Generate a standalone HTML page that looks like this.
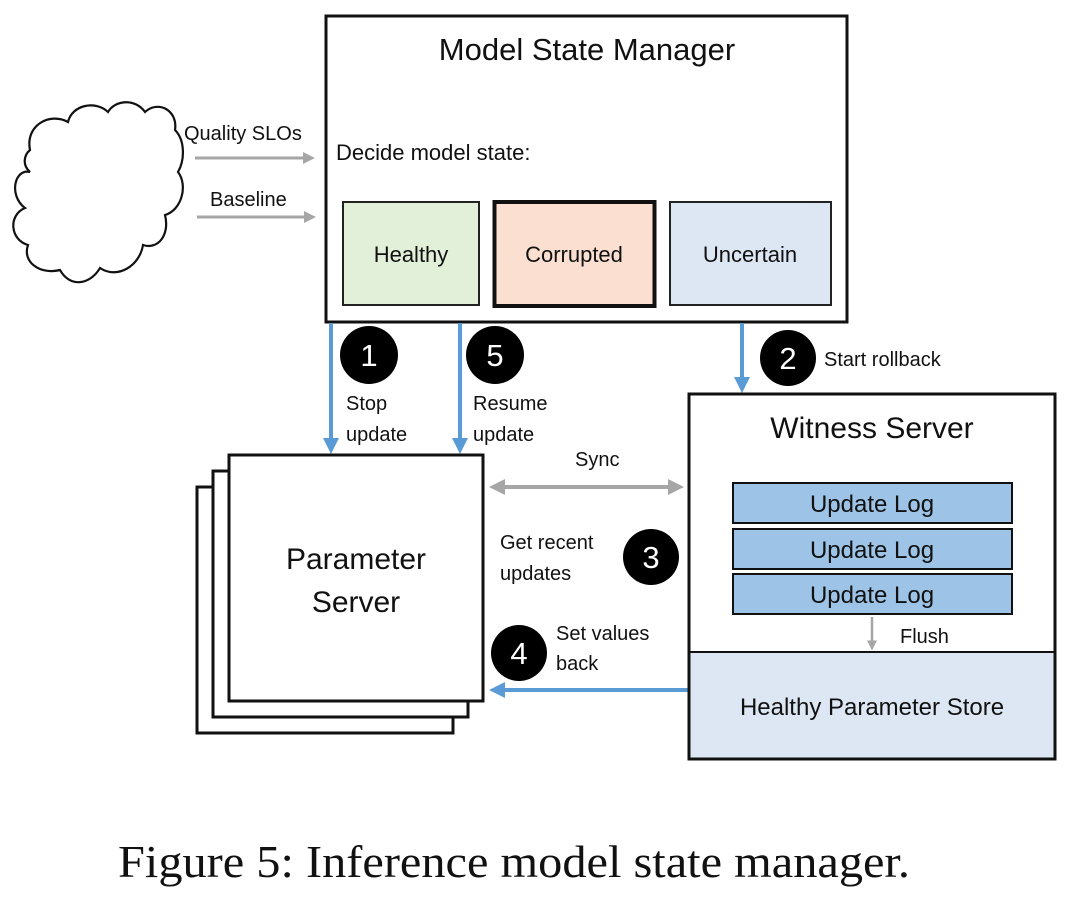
<!DOCTYPE html>
<html><head><meta charset="utf-8"><style>
html,body{margin:0;padding:0;background:#fff;}
svg{display:block;}
text{font-family:"Liberation Sans",sans-serif;fill:#111;}
</style></head><body>
<svg width="1080" height="900" viewBox="0 0 1080 900" xmlns="http://www.w3.org/2000/svg">
<defs>
<marker id="ga" markerWidth="4" markerHeight="4" refX="3" refY="2" orient="auto" markerUnits="strokeWidth"><path d="M0,0 L4,2 L0,4 z" fill="#a6a6a6"/></marker>
<marker id="gs" markerWidth="4" markerHeight="4" refX="1" refY="2" orient="auto" markerUnits="strokeWidth"><path d="M4,0 L0,2 L4,4 z" fill="#a6a6a6"/></marker>
<marker id="ba" markerWidth="4" markerHeight="4" refX="3" refY="2" orient="auto" markerUnits="strokeWidth"><path d="M0,0 L4,2 L0,4 z" fill="#5b9bd5"/></marker>
</defs>
<!-- cloud -->
<path d="M30,150 C25,125 50,112 68,122 C72,105 95,100 108,112 C115,100 135,98 145,112 C158,100 178,110 175,130 C185,140 185,160 178,172 C188,185 182,210 165,215 C170,235 158,250 143,245 C140,265 118,280 100,268 C90,285 70,288 60,270 C40,275 22,262 28,245 C10,240 8,215 25,208 C8,195 15,168 30,172 C22,165 24,155 30,150 z" fill="#fff" stroke="#111" stroke-width="2.2"/>
<!-- MSM -->
<rect x="326" y="16" width="521" height="306" fill="#fff" stroke="#111" stroke-width="3"/>
<text x="587" y="60" font-size="31" text-anchor="middle">Model State Manager</text>
<text x="336" y="160" font-size="22">Decide model state:</text>
<rect x="343" y="202" width="136" height="103" fill="#e2efd9" stroke="#222" stroke-width="2"/>
<text x="411" y="262" font-size="22" text-anchor="middle">Healthy</text>
<rect x="494.5" y="202" width="160" height="104" fill="#fbe0d2" stroke="#111" stroke-width="4"/>
<text x="574" y="262" font-size="22" text-anchor="middle">Corrupted</text>
<rect x="670" y="202" width="161" height="103" fill="#dde7f4" stroke="#222" stroke-width="2"/>
<text x="750" y="262" font-size="22" text-anchor="middle">Uncertain</text>
<!-- inputs -->
<text x="184" y="140" font-size="20">Quality SLOs</text>
<line x1="195" y1="158" x2="312" y2="158" stroke="#a6a6a6" stroke-width="3" marker-end="url(#ga)"/>
<text x="210" y="206" font-size="20">Baseline</text>
<line x1="197" y1="217" x2="313" y2="217" stroke="#a6a6a6" stroke-width="3" marker-end="url(#ga)"/>
<!-- blue down arrows -->
<line x1="331" y1="323" x2="331" y2="450" stroke="#5b9bd5" stroke-width="4" marker-end="url(#ba)"/>
<line x1="460" y1="323" x2="460" y2="450" stroke="#5b9bd5" stroke-width="4" marker-end="url(#ba)"/>
<line x1="742" y1="323" x2="742" y2="389" stroke="#5b9bd5" stroke-width="4" marker-end="url(#ba)"/>
<!-- circles -->
<g font-size="31">
<circle cx="369" cy="355" r="29" fill="#000"/><text x="369" y="366" text-anchor="middle" style="fill:#fff">1</text>
<circle cx="495" cy="355" r="29" fill="#000"/><text x="495" y="366" text-anchor="middle" style="fill:#fff">5</text>
<circle cx="788" cy="358" r="28" fill="#000"/><text x="788" y="369" text-anchor="middle" style="fill:#fff">2</text>
<circle cx="651" cy="557" r="28" fill="#000"/><text x="651" y="568" text-anchor="middle" style="fill:#fff">3</text>
<circle cx="519" cy="653" r="28" fill="#000"/><text x="519" y="664" text-anchor="middle" style="fill:#fff">4</text>
</g>
<g font-size="20">
<text x="346" y="410">Stop</text><text x="346" y="441">update</text>
<text x="473" y="410">Resume</text><text x="473" y="441">update</text>
<text x="824" y="366">Start rollback</text>
<text x="575" y="466">Sync</text>
<text x="500" y="549">Get recent</text><text x="500" y="580">updates</text>
<text x="556" y="640">Set values</text><text x="556" y="670">back</text>
</g>
<!-- parameter server stack -->
<rect x="197" y="487" width="256" height="246" fill="#fff" stroke="#111" stroke-width="3"/>
<rect x="213" y="471" width="255" height="246" fill="#fff" stroke="#111" stroke-width="3"/>
<rect x="229" y="455" width="254" height="246" fill="#fff" stroke="#111" stroke-width="3"/>
<text x="356" y="569" font-size="30" text-anchor="middle">Parameter</text>
<text x="356" y="612" font-size="30" text-anchor="middle">Server</text>
<!-- sync -->
<line x1="493" y1="487" x2="680" y2="487" stroke="#a6a6a6" stroke-width="4" marker-start="url(#gs)" marker-end="url(#ga)"/>
<line x1="688" y1="690" x2="493" y2="690" stroke="#5b9bd5" stroke-width="4" marker-end="url(#ba)"/>
<!-- witness -->
<rect x="689" y="394" width="366" height="365" fill="#fff" stroke="#111" stroke-width="3"/>
<rect x="690.5" y="652" width="363" height="105.5" fill="#dde7f4"/>
<line x1="689" y1="652" x2="1055" y2="652" stroke="#111" stroke-width="2"/>
<text x="872" y="438" font-size="30" text-anchor="middle">Witness Server</text>
<rect x="733" y="483" width="279" height="40" fill="#9dc3e6" stroke="#111" stroke-width="2"/>
<rect x="733" y="529" width="279" height="40" fill="#9dc3e6" stroke="#111" stroke-width="2"/>
<rect x="733" y="574" width="279" height="40" fill="#9dc3e6" stroke="#111" stroke-width="2"/>
<g font-size="24" text-anchor="middle">
<text x="872" y="512">Update Log</text>
<text x="872" y="558">Update Log</text>
<text x="872" y="603">Update Log</text>
</g>
<line x1="872" y1="617" x2="872" y2="648" stroke="#a6a6a6" stroke-width="2.5" marker-end="url(#ga)"/>
<text x="900" y="643" font-size="20">Flush</text>
<text x="872" y="715" font-size="24" text-anchor="middle">Healthy Parameter Store</text>
<!-- caption -->
<text x="118" y="877" font-size="46" textLength="792" lengthAdjust="spacingAndGlyphs" style="font-family:'Liberation Serif',serif">Figure 5: Inference model state manager.</text>
</svg>
</body></html>
